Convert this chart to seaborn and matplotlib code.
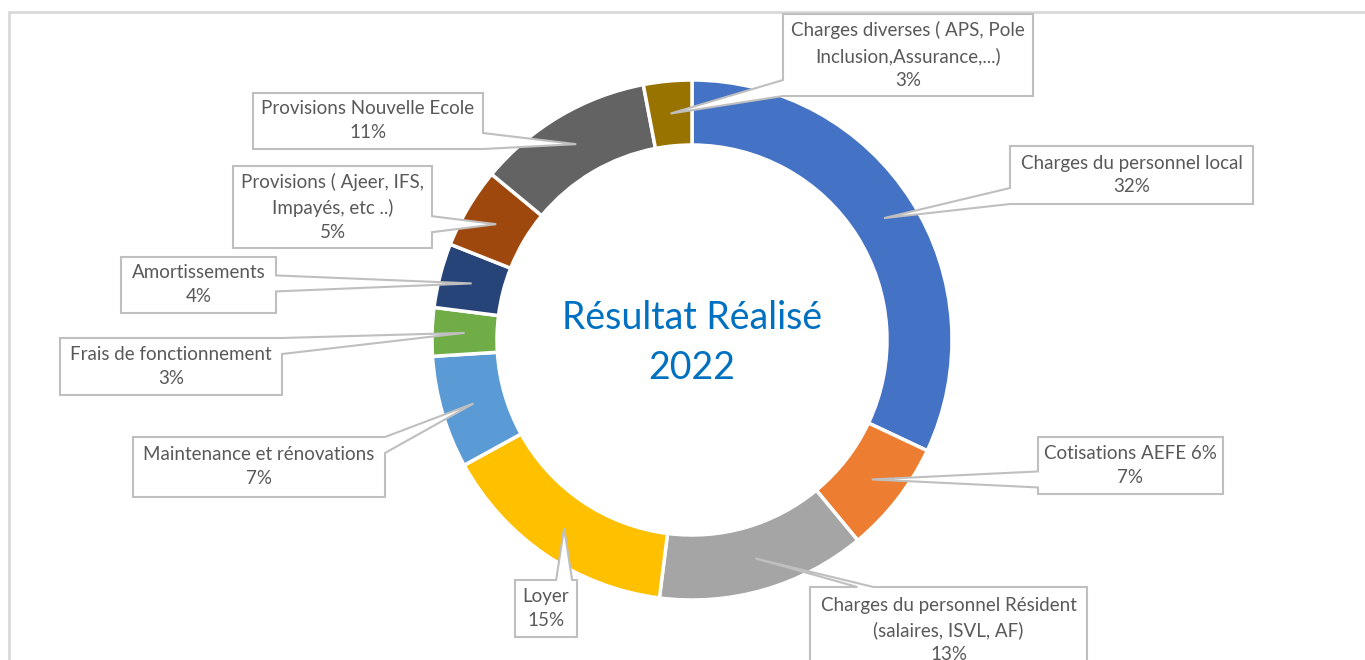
import matplotlib
matplotlib.use("Agg")
import matplotlib.pyplot as plt
from matplotlib.patches import Polygon
import seaborn as sns
import numpy as np

# Data
labels = [
    "Charges du personnel local",
    "Cotisations AEFE 6%",
    "Charges du personnel Résident\n(salaires, ISVL, AF)",
    "Loyer",
    "Maintenance et rénovations",
    "Frais de fonctionnement",
    "Amortissements",
    "Provisions ( Ajeer, IFS,\nImpayés, etc ..)",
    "Provisions Nouvelle Ecole",
    "Charges diverses ( APS, Pole\nInclusion,Assurance,...)",
]
values = [32, 7, 13, 15, 7, 3, 4, 5, 11, 3]
colors = ["#4472C4", "#ED7D31", "#A5A5A5", "#FFC000", "#5B9BD5",
          "#70AD47", "#264478", "#9E480E", "#636363", "#997300"]
title = "Résultat Réalisé\n2022"

# Layout of the label boxes (pixel coords, y down) and the side the pointer leaves from
boxes = [
    (1010, 146, 1253, 204), (1038, 437, 1223, 494), (810, 587, 1087, 673),
    (515, 580, 577, 637), (133, 437, 385, 497), (60, 338, 282, 395),
    (121, 257, 276, 313), (233, 166, 432, 248), (253, 93, 483, 149),
    (783, 14, 1033, 96),
]
sides = ["left", "left", "top", "top", "right", "right",
         "right", "right", "right", "left"]

W, H = 1365, 660
cx, cy, R, ring = 692, 340, 260, 65

sns.set_theme(style="white")
plt.rcParams["font.family"] = ["Lato", "DejaVu Sans"]

fig = plt.figure(figsize=(W / 100, H / 100), dpi=100)
ax = fig.add_axes([0, 0, 1, 1])

# Chart frame
ax.plot([9, W], [H - 12, H - 12], color="#D9D9D9", lw=2)
ax.plot([9, 9], [H - 12, 0], color="#D9D9D9", lw=2)

wedges, _ = ax.pie(values, colors=sns.color_palette(colors), startangle=90,
                   counterclock=False, radius=R, center=(cx, H - cy),
                   wedgeprops=dict(width=ring, edgecolor="white", linewidth=2.5),
                   frame=True)
ax.set_xlim(0, W)
ax.set_ylim(0, H)
ax.set_aspect("equal")
ax.axis("off")

ax.text(cx, H - 343, title, ha="center", va="center", fontsize=27,
        color="#0070C0", linespacing=1.45)


def callout(box, side, tip, w=16, m=8):
    x0, y0, x1, y1 = box
    tx, ty = tip
    if side in ("left", "right"):
        b = np.clip(ty, y0 + m, y1 - m)
    else:
        mm = max(m, 0.2 * (x1 - x0))
        b = np.clip(tx, x0 + mm, x1 - mm)
    pts = [(x0, y0)]
    if side == "top":
        pts += [(b - w / 2, y0), (tx, ty), (b + w / 2, y0)]
    pts += [(x1, y0)]
    if side == "right":
        pts += [(x1, b - w / 2), (tx, ty), (x1, b + w / 2)]
    pts += [(x1, y1)]
    if side == "bottom":
        pts += [(b + w / 2, y1), (tx, ty), (b - w / 2, y1)]
    pts += [(x0, y1)]
    if side == "left":
        pts += [(x0, b + w / 2), (tx, ty), (x0, b - w / 2)]
    pts = [(x, H - y) for x, y in pts]
    ax.add_patch(Polygon(pts, closed=True, facecolor="white",
                         edgecolor="#BFBFBF", lw=1.5, zorder=5))


rm = R - ring / 2
for w, lab, val, box, side in zip(wedges, labels, values, boxes, sides):
    th = np.deg2rad((w.theta1 + w.theta2) / 2)
    tip = (cx + rm * np.cos(th), cy - rm * np.sin(th))
    callout(box, side, tip)
    x0, y0, x1, y1 = box
    ax.text((x0 + x1) / 2, H - (y0 + y1) / 2, f"{lab}\n{val}%",
            ha="center", va="center", fontsize=13.5, color="#595959",
            linespacing=1.5, zorder=6)

fig.savefig("out.png", dpi=100)
